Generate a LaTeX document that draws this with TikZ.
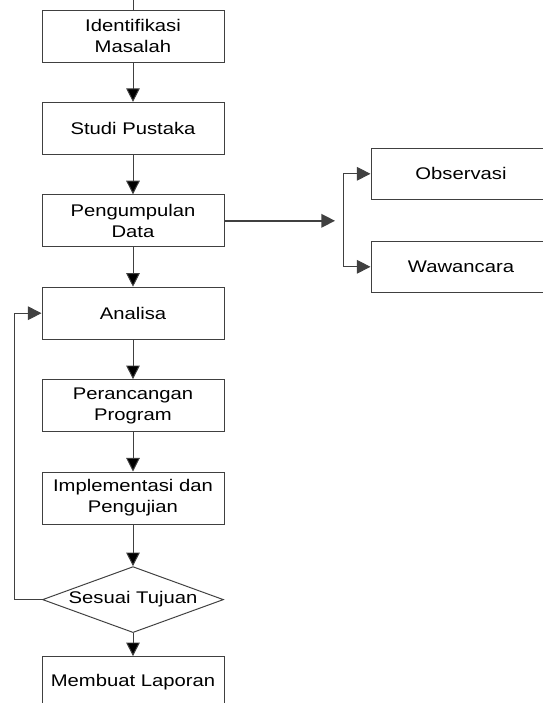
\documentclass[tikz,border=0pt]{standalone}
\usepackage{fontspec}
\setmainfont[FakeStretch=1.2]{Liberation Sans}
\usetikzlibrary{positioning,shapes.geometric,arrows.meta}
\definecolor{lnc}{HTML}{404040}

\begin{document}
\begin{tikzpicture}[node distance=2.31cm,on grid,
   box/.style={draw=lnc,line width=0.7pt,minimum width=4.55cm,minimum height=1.3cm,
     align=center,font=\fontsize{12}{15}\selectfont,inner sep=0pt},
   decide/.style={diamond,draw=lnc,line width=0.7pt,aspect=2.74,minimum width=4.525cm,
     minimum height=1.65cm,inner sep=0pt,font=\fontsize{12}{15}\selectfont},
   side/.style={box,minimum width=4.5cm,minimum height=1.28cm},
   link/.style={draw=lnc,line width=0.7pt},
   flow/.style={link,-{Triangle[length=0.34cm,width=0.34cm]}}]
   \useasboundingbox (0,0) rectangle (13.575,-17.575);
   \clip (0,0) rectangle (13.575,-17.575);
   \node[box] (identifikasi) at (3.325,-0.9) {Identifikasi\\Masalah};
   \node[box] (studi) [below=of identifikasi] {Studi Pustaka};
   \node[box] (pengumpulan) [below=of studi] {Pengumpulan\\Data};
   \node[box] (analisa) [below=of pengumpulan] {Analisa};
   \node[box] (perancangan) [below=of analisa] {Perancangan\\Program};
   \node[box] (implementasi) [below=of perancangan] {Implementasi dan\\Pengujian};
   \node[decide] (sesuai) [below=2.54cm of implementasi] {Sesuai Tujuan};
   \node[box] (laporan) [below=2.075cm of sesuai] {Membuat Laporan};
   \node[side] (observasi) [above right=1.175cm and 8.2cm of pengumpulan] {Observasi};
   \node[side] (wawancara) [below=2.325cm of observasi] {Wawancara};
   \coordinate (top) at (3.325,0);
   \coordinate (fork) at (8.575,0 |- pengumpulan.east);
   \draw[link] (top) -- (identifikasi.north);
   \path[flow] (identifikasi) edge (studi)
               (studi) edge (pengumpulan)
               (pengumpulan) edge (analisa)
               (analisa) edge (perancangan)
               (perancangan) edge (implementasi)
               (implementasi) edge (sesuai)
               (sesuai) edge (laporan);
   \draw[flow,line width=1pt] (pengumpulan.east) -- ([xshift=-0.2cm]fork);
   \draw[link] (fork |- observasi.west) -- (fork |- wawancara.west);
   \draw[flow] (fork |- observasi.west) -- (observasi.west);
   \draw[flow] (fork |- wawancara.west) -- (wawancara.west);
   \draw[flow] (sesuai.west) -- ++(-0.7cm,0) |- (analisa.west);
\end{tikzpicture}
\end{document}
